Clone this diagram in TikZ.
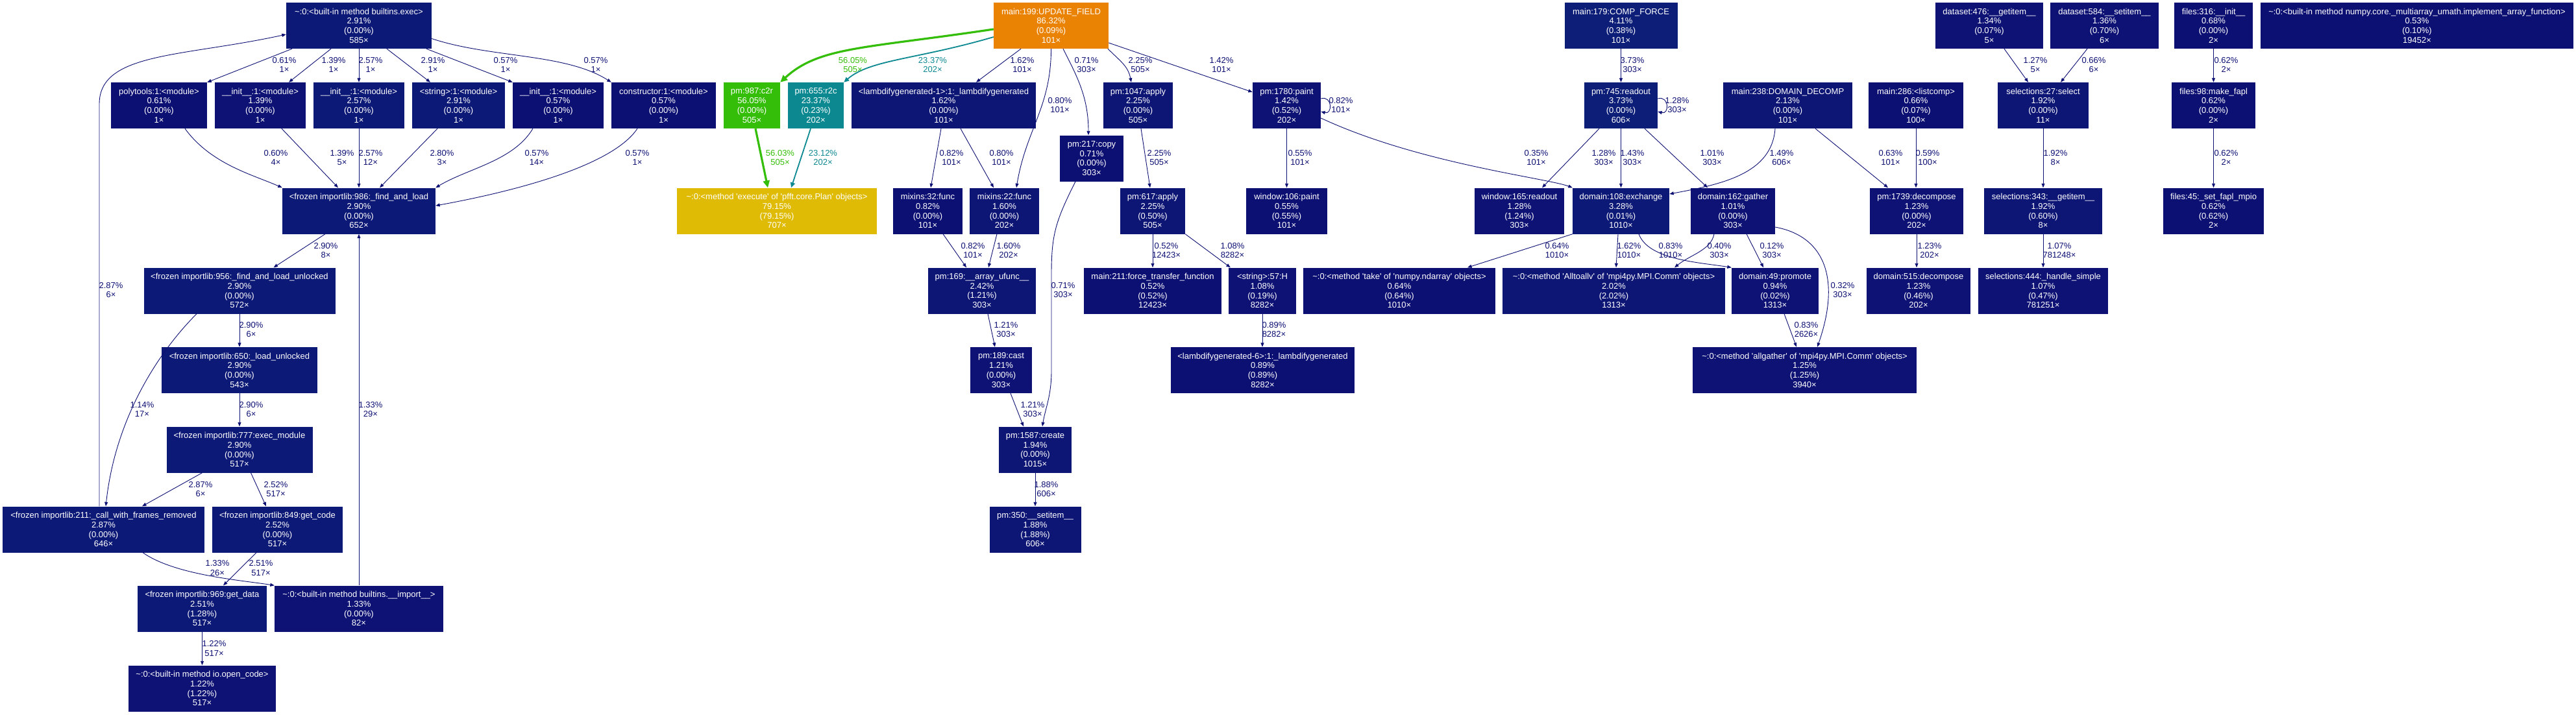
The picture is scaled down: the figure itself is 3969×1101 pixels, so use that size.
\documentclass[tikz,border=0pt]{standalone}
\usepackage{fontspec}
\setmainfont{Liberation Sans}
\usetikzlibrary{calc,arrows.meta}
\definecolor{nv}{HTML}{0D1073}
\definecolor{cA}{HTML}{0D1073}
\definecolor{cB}{HTML}{0D1274}
\definecolor{cC}{HTML}{0D1575}
\definecolor{cD}{HTML}{0D1976}
\definecolor{cE}{HTML}{0D1E78}
\definecolor{gr}{HTML}{35BE09}
\definecolor{tl}{HTML}{0C8891}
\definecolor{og}{HTML}{EA8203}
\definecolor{yl}{HTML}{E0BB05}
\tikzset{
 fn/.style={font=\fontsize{13}{14.7}\selectfont},
 box/.style={fn, rectangle, text=white, align=center, inner sep=0pt, minimum height=71pt},
 lab/.style={fn, align=center, inner sep=0pt, text=nv},
 ed/.style={draw=nv, line width=0.9pt, -{Triangle[length=6.5pt,width=5pt]}},
 edg/.style={draw=gr, line width=3.2pt, -{Triangle[length=11pt,width=10pt]}},
 edt/.style={draw=tl, line width=1.8pt, -{Triangle[length=8pt,width=7pt]}},
}
\newcommand{\gbox}[6]{\node[box,fill=#5,minimum width=#4pt] (#1) at (#2,#3) {#6};}
\newcommand{\glab}[4]{\node[lab] (#1) at (#2,#3) {#4};}
\newcommand{\ftxt}[4]{#1\\#2\\#3\\#4}
\newcommand{\tld}{\textasciitilde}
\newcommand{\q}{\textquotesingle}
\begin{document}
\begin{tikzpicture}[x=1pt,y=-1pt]
\fill[white] (0,0) rectangle (3969,1101);
\useasboundingbox (0,0) rectangle (3969,1101);

% ---------- import cluster ----------
\gbox{exec}{553}{39.5}{224}{cD}{\ftxt{\tld:0:<built-in method builtins.exec>}{2.91\%}{(0.00\%)}{585×}}
\gbox{poly}{245}{162.5}{148}{cA}{\ftxt{polytools:1:<module>}{0.61\%}{(0.00\%)}{1×}}
\gbox{inita}{401}{162.5}{140}{cB}{\ftxt{\_\_init\_\_:1:<module>}{1.39\%}{(0.00\%)}{1×}}
\gbox{initb}{553}{162.5}{140}{cD}{\ftxt{\_\_init\_\_:1:<module>}{2.57\%}{(0.00\%)}{1×}}
\gbox{strA}{706.5}{162.5}{143}{cD}{\ftxt{<string>:1:<module>}{2.91\%}{(0.00\%)}{1×}}
\gbox{initc}{860}{162.5}{140}{cA}{\ftxt{\_\_init\_\_:1:<module>}{0.57\%}{(0.00\%)}{1×}}
\gbox{con}{1022.5}{162.5}{161}{cA}{\ftxt{constructor:1:<module>}{0.57\%}{(0.00\%)}{1×}}
\gbox{fal}{553}{325}{236}{cD}{\ftxt{<frozen importlib:986:\_find\_and\_load}{2.90\%}{(0.00\%)}{652×}}
\gbox{falu}{369}{448}{295}{cD}{\ftxt{<frozen importlib:956:\_find\_and\_load\_unlocked}{2.90\%}{(0.00\%)}{572×}}
\gbox{lu}{369}{570.5}{240}{cD}{\ftxt{<frozen importlib:650:\_load\_unlocked}{2.90\%}{(0.00\%)}{543×}}
\gbox{em}{369}{693}{225}{cD}{\ftxt{<frozen importlib:777:exec\_module}{2.90\%}{(0.00\%)}{517×}}
\gbox{cwfr}{159.5}{816}{311}{cD}{\ftxt{<frozen importlib:211:\_call\_with\_frames\_removed}{2.87\%}{(0.00\%)}{646×}}
\gbox{gc}{427.5}{816}{201}{cD}{\ftxt{<frozen importlib:849:get\_code}{2.52\%}{(0.00\%)}{517×}}
\gbox{gd}{311.5}{938}{199}{cD}{\ftxt{<frozen importlib:969:get\_data}{2.51\%}{(1.28\%)}{517×}}
\gbox{imp}{553}{938}{260}{cB}{\ftxt{\tld:0:<built-in method builtins.\_\_import\_\_>}{1.33\%}{(0.00\%)}{82×}}
\gbox{oc}{311.5}{1061}{227}{cB}{\ftxt{\tld:0:<built-in method io.open\_code>}{1.22\%}{(1.22\%)}{517×}}

% ---------- update field cluster ----------
\gbox{upd}{1619.5}{39.5}{177}{og}{\ftxt{main:199:UPDATE\_FIELD}{86.32\%}{(0.09\%)}{101×}}
\gbox{c2r}{1158.5}{162.5}{87}{gr}{\ftxt{pm:987:c2r}{56.05\%}{(0.00\%)}{505×}}
\gbox{r2c}{1257}{162.5}{86}{tl}{\ftxt{pm:655:r2c}{23.37\%}{(0.23\%)}{202×}}
\gbox{lamA}{1454}{162.5}{284}{cC}{\ftxt{<lambdifygenerated-1>:1:\_lambdifygenerated}{1.62\%}{(0.00\%)}{101×}}
\gbox{apA}{1753.5}{162.5}{107}{cC}{\ftxt{pm:1047:apply}{2.25\%}{(0.00\%)}{505×}}
\gbox{paint}{1982.5}{162.5}{105}{cB}{\ftxt{pm:1780:paint}{1.42\%}{(0.52\%)}{202×}}
\gbox{execp}{1197}{325}{308}{yl}{\ftxt{\tld:0:<method \q execute\q{} of \q pfft.core.Plan\q{} objects>}{79.15\%}{(79.15\%)}{707×}}
\gbox{mxA}{1429.5}{325}{107}{cA}{\ftxt{mixins:32:func}{0.82\%}{(0.00\%)}{101×}}
\gbox{mxB}{1547.5}{325}{107}{cC}{\ftxt{mixins:22:func}{1.60\%}{(0.00\%)}{202×}}
\gbox{copy}{1682}{244}{98}{cA}{\ftxt{pm:217:copy}{0.71\%}{(0.00\%)}{303×}}
\gbox{apB}{1776}{325}{100}{cC}{\ftxt{pm:617:apply}{2.25\%}{(0.50\%)}{505×}}
\gbox{wA}{1982.5}{325}{125}{cA}{\ftxt{window:106:paint}{0.55\%}{(0.55\%)}{101×}}
\gbox{au}{1513}{448}{166}{cC}{\ftxt{pm:169:\_\_array\_ufunc\_\_}{2.42\%}{(1.21\%)}{303×}}
\gbox{ftf}{1776}{448}{212}{cA}{\ftxt{main:211:force\_transfer\_function}{0.52\%}{(0.52\%)}{12423×}}
\gbox{hh}{1945}{448}{104}{cB}{\ftxt{<string>:57:H}{1.08\%}{(0.19\%)}{8282×}}
\gbox{cast}{1542.5}{570.5}{95}{cB}{\ftxt{pm:189:cast}{1.21\%}{(0.00\%)}{303×}}
\gbox{lamB}{1945.5}{570.5}{283}{cA}{\ftxt{<lambdifygenerated-6>:1:\_lambdifygenerated}{0.89\%}{(0.89\%)}{8282×}}
\gbox{create}{1595}{693}{112}{cC}{\ftxt{pm:1587:create}{1.94\%}{(0.00\%)}{1015×}}
\gbox{setA}{1595}{816}{141}{cC}{\ftxt{pm:350:\_\_setitem\_\_}{1.88\%}{(1.88\%)}{606×}}

% ---------- comp force / domain cluster ----------
\gbox{cf}{2497.5}{39.5}{174}{cE}{\ftxt{main:179:COMP\_FORCE}{4.11\%}{(0.38\%)}{101×}}
\gbox{ro}{2497.5}{162.5}{113}{cE}{\ftxt{pm:745:readout}{3.73\%}{(0.00\%)}{606×}}
\gbox{dd}{2754.5}{162.5}{199}{cC}{\ftxt{main:238:DOMAIN\_DECOMP}{2.13\%}{(0.00\%)}{101×}}
\gbox{lc}{2952}{162.5}{146}{cA}{\ftxt{main:286:<listcomp>}{0.66\%}{(0.07\%)}{100×}}
\gbox{wB}{2341}{325}{138}{cB}{\ftxt{window:165:readout}{1.28\%}{(1.24\%)}{303×}}
\gbox{exch}{2497.5}{325}{149}{cD}{\ftxt{domain:108:exchange}{3.28\%}{(0.01\%)}{1010×}}
\gbox{gath}{2670}{325}{130}{cB}{\ftxt{domain:162:gather}{1.01\%}{(0.00\%)}{303×}}
\gbox{decA}{2953}{325}{144}{cB}{\ftxt{pm:1739:decompose}{1.23\%}{(0.00\%)}{202×}}
\gbox{take}{2156}{448}{296}{cA}{\ftxt{\tld:0:<method \q take\q{} of \q numpy.ndarray\q{} objects>}{0.64\%}{(0.64\%)}{1010×}}
\gbox{ata}{2486.5}{448}{343}{cC}{\ftxt{\tld:0:<method \q Alltoallv\q{} of \q mpi4py.MPI.Comm\q{} objects>}{2.02\%}{(2.02\%)}{1313×}}
\gbox{prom}{2735}{448}{134}{cB}{\ftxt{domain:49:promote}{0.94\%}{(0.02\%)}{1313×}}
\gbox{decB}{2956}{448}{160}{cB}{\ftxt{domain:515:decompose}{1.23\%}{(0.46\%)}{202×}}
\gbox{allg}{2780.5}{570.5}{345}{cB}{\ftxt{\tld:0:<method \q allgather\q{} of \q mpi4py.MPI.Comm\q{} objects>}{1.25\%}{(1.25\%)}{3940×}}

% ---------- far right ----------
\gbox{dsA}{3065}{39.5}{166}{cB}{\ftxt{dataset:476:\_\_getitem\_\_}{1.34\%}{(0.07\%)}{5×}}
\gbox{dsB}{3242.5}{39.5}{167}{cB}{\ftxt{dataset:584:\_\_setitem\_\_}{1.36\%}{(0.70\%)}{6×}}
\gbox{fA}{3410.5}{39.5}{121}{cA}{\ftxt{files:316:\_\_init\_\_}{0.68\%}{(0.00\%)}{2×}}
\gbox{np}{3724}{39.5}{482}{cA}{\ftxt{\tld:0:<built-in method numpy.core.\_multiarray\_umath.implement\_array\_function>}{0.53\%}{(0.10\%)}{19452×}}
\gbox{selA}{3148}{162.5}{140}{cC}{\ftxt{selections:27:select}{1.92\%}{(0.00\%)}{11×}}
\gbox{fB}{3410.5}{162.5}{129}{cA}{\ftxt{files:98:make\_fapl}{0.62\%}{(0.00\%)}{2×}}
\gbox{selB}{3148}{325}{182}{cC}{\ftxt{selections:343:\_\_getitem\_\_}{1.92\%}{(0.60\%)}{8×}}
\gbox{fC}{3410.5}{325}{155}{cA}{\ftxt{files:45:\_set\_fapl\_mpio}{0.62\%}{(0.62\%)}{2×}}
\gbox{selC}{3148}{448}{200}{cB}{\ftxt{selections:444:\_handle\_simple}{1.07\%}{(0.47\%)}{781251×}}

% ---------- edges: import cluster ----------
\draw[ed] ($(exec.south)+(-103,0)$) -- (poly.north east);
\draw[ed] ($(exec.south)+(-43,0)$) -- ($(inita.north)+(44,0)$);
\draw[ed] (exec.south) -- (initb.north);
\draw[ed] ($(exec.south)+(43,0)$) -- ($(strA.north)+(-43.5,0)$);
\draw[ed] ($(exec.south)+(104,0)$) -- (initc.north west);
\draw[ed] ($(exec.east)+(0,20)$) .. controls +(90,30) and +(-70,-45) .. (con.north west);
\draw[ed] ($(poly.south)+(40,0)$) .. controls +(40,55) and +(-45,-20) .. (fal.north west);
\draw[ed] ($(inita.south)+(33,0)$) -- ($(fal.north)+(-32,0)$);
\draw[ed] (initb.south) -- (fal.north);
\draw[ed] ($(strA.south)+(-32.5,0)$) -- ($(fal.north)+(32,0)$);
\draw[ed] ($(initc.south)+(-39,0)$) .. controls +(-30,50) and +(50,-30) .. (fal.north east);
\draw[ed] ($(con.south)+(-40.5,0)$) .. controls +(-40,60) and +(110,-20) .. ($(fal.east)+(0,-8)$);
\draw[ed] ($(fal.south)+(-52,0)$) -- ($(falu.north)+(52.5,0)$);
\draw[ed] (falu.south) -- (lu.north);
\draw[ed] (lu.south) -- (em.north);
\draw[ed] ($(em.south)+(-57.5,0)$) -- ($(cwfr.north)+(59.5,0)$);
\draw[ed] ($(em.south)+(17.5,0)$) -- ($(gc.north)+(-17.5,0)$);
\draw[ed] ($(falu.south)+(-66,0)$) .. controls +(-55,55) and +(15,-140) .. ($(cwfr.north)+(3.5,0)$);
\draw[ed] ($(cwfr.north)+(-6.5,0)$) -- ++(0,-620) .. controls +(0,-80) and +(-160,35) .. ($(exec.west)+(0,13.5)$);
\draw[ed] ($(cwfr.south)+(60.5,0)$) .. controls +(50,35) and +(-50,-8) .. (imp.north west);
\draw[ed] ($(gc.south)+(-32.5,0)$) -- ($(gd.north)+(32.5,0)$);
\draw[ed] (imp.north) -- (fal.south);
\draw[ed] (gd.south) -- (oc.north);

% ---------- edges: update field ----------
\draw[edg] ($(upd.west)+(0,5.5)$) .. controls +(-200,30) and +(60,-55) .. (c2r.north east);
\draw[edt] ($(upd.west)+(0,17.5)$) .. controls +(-120,35) and +(40,-35) .. (r2c.north east);
\draw[ed] ($(upd.south)+(-46.5,0)$) -- ($(lamA.north)+(50,0)$);
\draw[ed] (upd.south) .. controls +(0,90) and +(15,-90) .. ($(mxB.north)+(18.5,0)$);
\draw[ed] ($(upd.south)+(18.5,0)$) .. controls +(20,40) and +(0,-60) .. ($(copy.north)+(-5,0)$);
\draw[ed] ($(upd.south)+(87.5,0)$) .. controls +(20,20) and +(-5,-25) .. ($(apA.north)+(-10.5,0)$);
\draw[ed] ($(upd.east)+(0,26.5)$) -- ($(paint.west)+(0,-20.5)$);
\draw[edg] ($(c2r.south)+(5.5,0)$) -- ($(execp.north)+(-14,0)$);
\draw[edt] ($(r2c.south)+(-8,0)$) -- ($(execp.north)+(22,0)$);
\draw[ed] ($(lamA.south)+(-4,0)$) -- ($(mxA.north)+(4.5,0)$);
\draw[ed] ($(lamA.south)+(26,0)$) -- ($(mxB.north)+(-16.5,0)$);
\draw[ed] ($(apA.south)+(4.5,0)$) -- ($(apB.north)+(-4,0)$);
\draw[ed] (paint.south) -- (wA.north);
\draw[ed] ($(paint.east)+(0,-10.5)$) .. controls +(18,-5) and +(18,5) .. ($(paint.east)+(0,9.5)$);
\draw[ed] ($(mxA.south)+(23.5,0)$) -- ($(au.north)+(-24,0)$);
\draw[ed] ($(mxB.south)+(-11.5,0)$) -- ($(au.north)+(10,0)$);
\draw[ed] ($(copy.south)+(-25,0)$) .. controls +(-30,60) and +(0,-60) .. ++(-37,141) -- ++(0,150) .. controls +(0,40) and +(5,-30) .. ($(create.north)+(11,0)$);
\draw[ed] (apB.south) -- (ftf.north);
\draw[ed] (apB.south east) -- ($(hh.north west)+(3,0)$);
\draw[ed] ($(au.south)+(9,0)$) -- ($(cast.north)+(-9.5,0)$);
\draw[ed] (hh.south) -- (hh.south |- lamB.north);
\draw[ed] ($(cast.south)+(14.5,0)$) -- ($(create.north)+(-18,0)$);
\draw[ed] (create.south) -- (setA.north);

% ---------- edges: comp force / domain ----------
\draw[ed] (cf.south) -- (ro.north);
\draw[ed] ($(ro.east)+(0,-10.5)$) .. controls +(18,-5) and +(18,5) .. ($(ro.east)+(0,9.5)$);
\draw[ed] ($(paint.east)+(0,19.5)$) .. controls +(150,70) and +(-40,-15) .. (exch.north west);
\draw[ed] ($(ro.south)+(-33.5,0)$) -- ($(wB.north)+(35,0)$);
\draw[ed] (ro.south) -- (exch.north);
\draw[ed] ($(ro.south)+(36.5,0)$) -- ($(gath.north)+(-39,0)$);
\draw[ed] ($(dd.south)+(-19.5,0)$) .. controls +(-5,70) and +(80,-15) .. ($(exch.east)+(0,-26)$);
\draw[ed] ($(dd.south)+(42.5,0)$) -- ($(decA.north)+(-44,0)$);
\draw[ed] (lc.south) -- (lc.south |- decA.north);
\draw[ed] (exch.south west) -- ($(take.north)+(105,0)$);
\draw[ed] ($(exch.south)+(-4.5,0)$) -- ($(ata.north)+(3.5,0)$);
\draw[ed] ($(exch.south)+(27.5,0)$) .. controls +(15,40) and +(-50,-8) .. (prom.north west);
\draw[ed] ($(gath.south)+(-29,0)$) .. controls +(-5,25) and +(25,-20) .. ($(ata.north)+(93.5,0)$);
\draw[ed] ($(gath.south)+(21,0)$) -- ($(prom.north)+(-18,0)$);
\draw[ed] ($(gath.east)+(0,25)$) .. controls +(80,15) and +(35,-100) .. ($(allg.north)+(19.5,0)$);
\draw[ed] ($(prom.south)+(14,0)$) -- ($(allg.north)+(-12.5,0)$);
\draw[ed] (decA.south) -- (decA.south |- decB.north);

% ---------- edges: far right ----------
\draw[ed] ($(dsA.south)+(23,0)$) -- ($(selA.north)+(-23,0)$);
\draw[ed] ($(dsB.south)+(-26.5,0)$) -- ($(selA.north)+(27,0)$);
\draw[ed] (fA.south) -- (fB.north);
\draw[ed] (selA.south) -- (selB.north);
\draw[ed] (fB.south) -- (fC.north);
\draw[ed] (selB.south) -- (selC.north);

% ---------- edge labels ----------
\glab{la1}{438}{100}{0.61\%\\1×}
\glab{la2}{514}{100}{1.39\%\\1×}
\glab{la3}{571}{100}{2.57\%\\1×}
\glab{la4}{667}{100}{2.91\%\\1×}
\glab{la5}{779}{100}{0.57\%\\1×}
\glab{la6}{918}{100}{0.57\%\\1×}
\glab{la7}{425}{243}{0.60\%\\4×}
\glab{la8}{527}{243}{1.39\%\\5×}
\glab{la9}{571}{243}{2.57\%\\12×}
\glab{la10}{681}{243}{2.80\%\\3×}
\glab{la11}{827}{243}{0.57\%\\14×}
\glab{la12}{982}{243}{0.57\%\\1×}
\glab{la13}{502}{386}{2.90\%\\8×}
\glab{la14}{171}{447}{2.87\%\\6×}
\glab{la15}{387}{508}{2.90\%\\6×}
\glab{la16}{219}{631}{1.14\%\\17×}
\glab{la17}{387}{631}{2.90\%\\6×}
\glab{la18}{571}{631}{1.33\%\\29×}
\glab{la19}{309}{754}{2.87\%\\6×}
\glab{la20}{425}{754}{2.52\%\\517×}
\glab{la21}{335}{875.5}{1.33\%\\26×}
\glab{la22}{402}{875.5}{2.51\%\\517×}
\glab{la23}{330}{999.5}{1.22\%\\517×}

\node[lab,text=gr] (lb1) at (1314,100) {56.05\%\\505×};
\node[lab,text=tl] (lb2) at (1437,100) {23.37\%\\202×};
\glab{lb3}{1575}{100}{1.62\%\\101×}
\glab{lb4}{1633}{162}{0.80\%\\101×}
\glab{lb5}{1674}{100}{0.71\%\\303×}
\glab{lb6}{1757}{100}{2.25\%\\505×}
\glab{lb7}{1882}{100}{1.42\%\\101×}
\node[lab,text=gr] (lb8) at (1202,243) {56.03\%\\505×};
\node[lab,text=tl] (lb9) at (1268,243) {23.12\%\\202×};
\glab{lb10}{1466}{243}{0.82\%\\101×}
\glab{lb11}{1543}{243}{0.80\%\\101×}
\glab{lb12}{1786}{243}{2.25\%\\505×}
\glab{lb13}{2003}{243}{0.55\%\\101×}
\glab{lb14}{2066}{162}{0.82\%\\101×}
\glab{lb15}{1499}{386}{0.82\%\\101×}
\glab{lb16}{1554}{386}{1.60\%\\202×}
\glab{lb17}{1638}{447}{0.71\%\\303×}
\glab{lb18}{1797}{386}{0.52\%\\12423×}
\glab{lb19}{1899}{386}{1.08\%\\8282×}
\glab{lb20}{1550}{508}{1.21\%\\303×}
\glab{lb21}{1963}{508}{0.89\%\\8282×}
\glab{lb22}{1591}{631}{1.21\%\\303×}
\glab{lb23}{1612}{754}{1.88\%\\606×}

\glab{lc1}{2515}{100}{3.73\%\\303×}
\glab{lc2}{2584}{162}{1.28\%\\303×}
\glab{lc3}{2367}{243}{0.35\%\\101×}
\glab{lc4}{2471}{243}{1.28\%\\303×}
\glab{lc5}{2515}{243}{1.43\%\\303×}
\glab{lc6}{2638}{243}{1.01\%\\303×}
\glab{lc7}{2745}{243}{1.49\%\\606×}
\glab{lc8}{2913}{243}{0.63\%\\101×}
\glab{lc9}{2970}{243}{0.59\%\\100×}
\glab{lc10}{2399}{386}{0.64\%\\1010×}
\glab{lc11}{2510}{386}{1.62\%\\1010×}
\glab{lc12}{2574}{386}{0.83\%\\1010×}
\glab{lc13}{2649}{386}{0.40\%\\303×}
\glab{lc14}{2730}{386}{0.12\%\\303×}
\glab{lc15}{2839}{447}{0.32\%\\303×}
\glab{lc16}{2973}{386}{1.23\%\\202×}
\glab{lc17}{2783}{508}{0.83\%\\2626×}

\glab{ld1}{3136}{100}{1.27\%\\5×}
\glab{ld2}{3226}{100}{0.66\%\\6×}
\glab{ld3}{3430}{100}{0.62\%\\2×}
\glab{ld4}{3167}{243}{1.92\%\\8×}
\glab{ld5}{3430}{243}{0.62\%\\2×}
\glab{ld6}{3173}{386}{1.07\%\\781248×}
\end{tikzpicture}
\end{document}
